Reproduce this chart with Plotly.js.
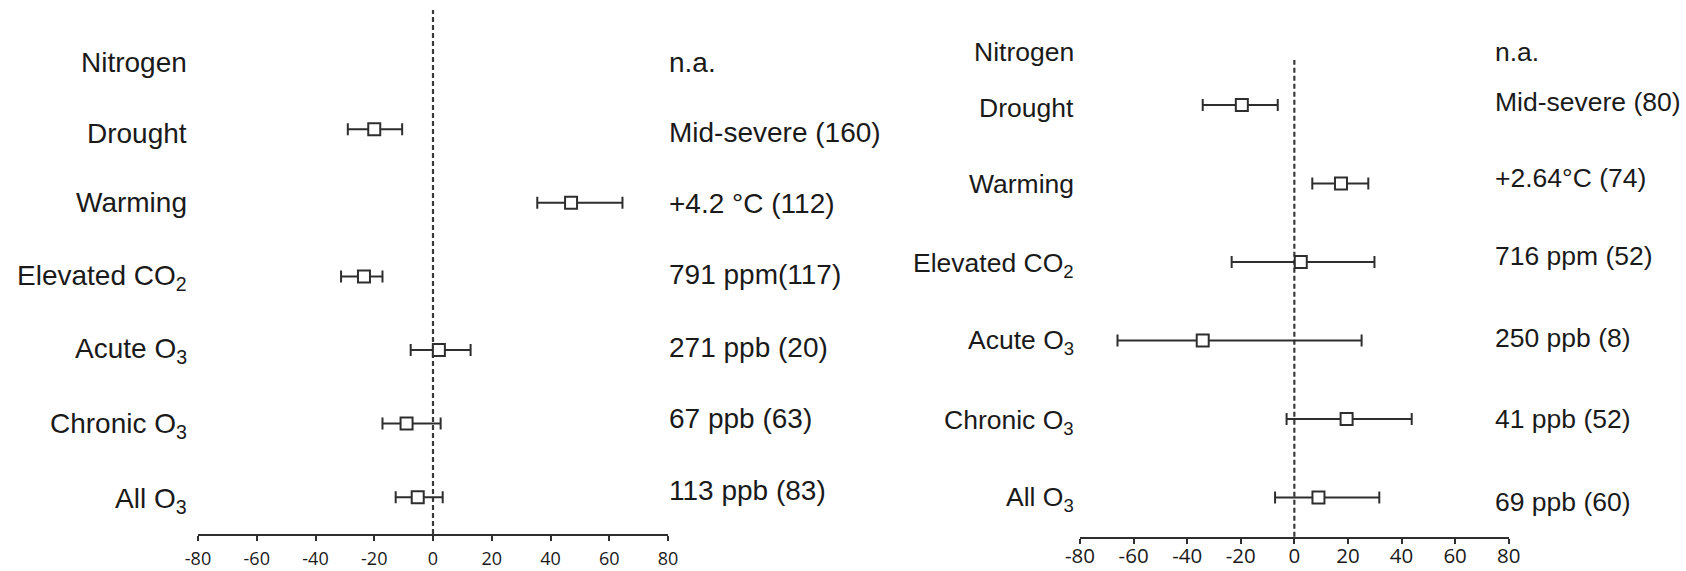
<!DOCTYPE html>
<html>
<head>
<meta charset="utf-8">
<script src="https://cdn.plot.ly/plotly-3.0.1.min.js"></script>
<style>
  html, body { margin: 0; padding: 0; background: #fff; }
  #chart { width: 1686px; height: 571px; }
</style>
</head>
<body>
<div id="chart"></div>
<script>
// Treatments, listed top to bottom
const categories = ['Nitrogen', 'Drought', 'Warming', 'Elevated CO<sub>2</sub>',
                    'Acute O<sub>3</sub>', 'Chronic O<sub>3</sub>', 'All O<sub>3</sub>'];

// Left panel: mean effect (%) with lower / upper confidence limits
const leftMean = [null, -20, 47, -23.5, 2, -9, -5.2];
const leftLow  = [null, -29, 35.5, -31.3, -7.6, -17.2, -12.7];
const leftHigh = [null, -10.5, 64.5, -17.2, 12.8, 2.6, 3.3];
const leftNotes = ['n.a.', 'Mid-severe (160)', '+4.2 °C (112)', '791 ppm(117)',
                   '271 ppb (20)', '67 ppb (63)', '113 ppb (83)'];

// Right panel
const rightMean = [null, -19.6, 17.4, 2.4, -34.2, 19.5, 9.0];
const rightLow  = [null, -34.2, 6.7, -23.4, -66, -2.9, -7.2];
const rightHigh = [null, -6.2, 27.6, 29.9, 25.1, 43.8, 31.7];
const rightNotes = ['n.a.', 'Mid-severe (80)', '+2.64°C (74)', '716 ppm (52)',
                    '250 ppb (8)', '41 ppb (52)', '69 ppb (60)'];

const xTicks = [-80, -60, -40, -20, 0, 20, 40, 60, 80];

// ---- layout constants (pixels in a 1686 x 571 page) ----
const W = 1686, H = 571;
const INK = '#2e2e2e';
const TEXT = '#1a1a1a';
// vertical pixel centre of each text row, top to bottom
const leftLabelPx  = [62, 133, 202, 277, 350, 425, 500];
const leftNotePx   = [62, 132, 203, 274, 347, 418, 490];
const rightLabelPx = [52, 108, 184, 265, 342, 422, 499];
const rightNotePx  = [52, 102, 178, 256, 338, 419, 502];

const n = categories.length;
const rowY = categories.map((_, i) => n - 1 - i);   // row index, 0 = bottom row

function forestTrace(mean, low, high, xa, ya) {
  const x = [], y = [], plus = [], minus = [];
  mean.forEach((m, i) => {
    if (m === null) return;
    x.push(m); y.push(rowY[i]);
    plus.push(high[i] - m); minus.push(m - low[i]);
  });
  return {
    type: 'scatter', mode: 'markers', x, y, xaxis: xa, yaxis: ya,
    marker: { symbol: 'square', size: 12, color: '#fff', line: { width: 2, color: INK } },
    error_x: { type: 'data', symmetric: false, array: plus, arrayminus: minus,
               color: INK, thickness: 2, width: 6 },
    hoverinfo: 'skip', showlegend: false
  };
}

const data = [
  forestTrace(leftMean, leftLow, leftHigh, 'x', 'y'),
  forestTrace(rightMean, rightLow, rightHigh, 'x2', 'y2')
];

function xAxis(domain, anchor, fontSize, standoff) {
  return {
    domain, anchor, range: [-80, 80], fixedrange: true,
    tickvals: xTicks, ticktext: xTicks.map(String),
    showline: true, linewidth: 2, linecolor: INK,
    ticks: 'outside', ticklen: 5, tickwidth: 2, tickcolor: INK,
    ticklabelstandoff: standoff,
    showgrid: false, zeroline: false,
    tickfont: { family: 'Open Sans, sans-serif', size: fontSize, color: TEXT }
  };
}
function yAxis(domain, range, anchor) {
  return {
    domain, range, anchor, visible: false, fixedrange: true,
    showgrid: false, zeroline: false
  };
}

const annotations = [];
function addColumn(texts, pxRows, xPx, anchor, size) {
  texts.forEach((t, i) => {
    annotations.push({
      xref: 'paper', yref: 'paper', x: xPx / W, y: 1 - pxRows[i] / H,
      xanchor: anchor, yanchor: 'middle', showarrow: false, text: t,
      font: { family: 'Liberation Sans, Arial, sans-serif', size, color: TEXT }
    });
  });
}
addColumn(categories, leftLabelPx, 189, 'right', 28);
addColumn(leftNotes, leftNotePx, 667, 'left', 28);
addColumn(categories, rightLabelPx, 1076, 'right', 26.5);
addColumn(rightNotes, rightNotePx, 1493, 'left', 26.5);

const layout = {
  width: W, height: H,
  margin: { l: 0, r: 0, t: 0, b: 0 },
  paper_bgcolor: '#fff', plot_bgcolor: 'rgba(0,0,0,0)',
  showlegend: false,
  xaxis:  xAxis([198 / W, 668 / W], 'y', 18, 2),
  yaxis:  yAxis([1 - 534 / H, 1 - 10 / H], [-0.5, 6.62], 'x'),
  xaxis2: xAxis([1080 / W, 1508.7 / W], 'y2', 20.5, -5),
  yaxis2: yAxis([1 - 536.7 / H, 1 - 60 / H], [-0.5, 5.574], 'x2'),
  shapes: [
    { type: 'line', xref: 'x', yref: 'y domain', x0: 0, x1: 0, y0: 0, y1: 1,
      line: { color: '#3a3a3a', width: 2.2, dash: '5px,3px' }, layer: 'below' },
    { type: 'line', xref: 'x2', yref: 'y2 domain', x0: 0, x1: 0, y0: 0, y1: 1,
      line: { color: '#3a3a3a', width: 2.2, dash: '5px,3px' }, layer: 'below' }
  ],
  annotations
};

Plotly.newPlot('chart', data, layout, { displayModeBar: false, staticPlot: true });
</script>
</body>
</html>
